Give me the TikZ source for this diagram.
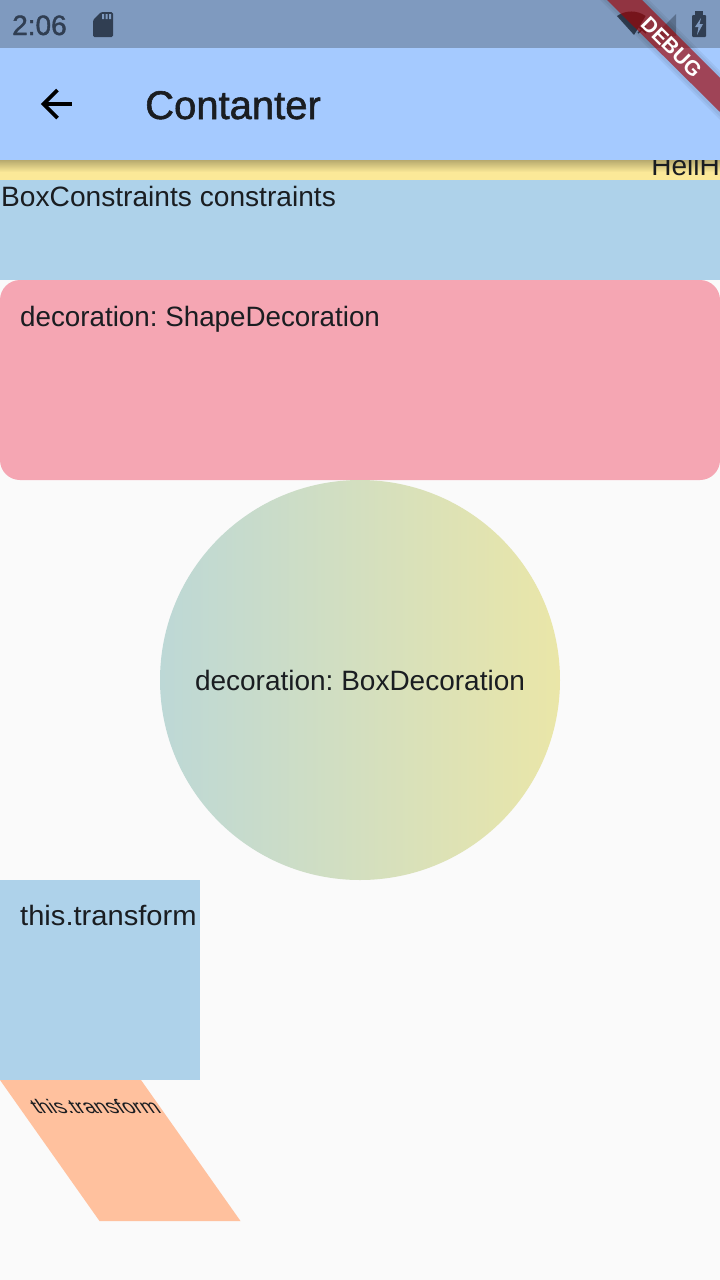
\documentclass[tikz,border=0pt]{standalone}
\usepackage{fontspec}
\setmainfont{Liberation Sans}
\newfontfamily\mediumfont[FakeBold=1.4]{Liberation Sans}
\frenchspacing
\definecolor{statusbar}{HTML}{7F9ABF}
\definecolor{appbar}{HTML}{A5CAFF}
\definecolor{butter}{HTML}{FBE998}
\definecolor{skyb}{HTML}{AED2EA}
\definecolor{pinkb}{HTML}{F5A6B3}
\definecolor{page}{HTML}{FAFAFA}
\definecolor{peach}{HTML}{FFC19E}
\definecolor{icon}{HTML}{303E52}
\definecolor{ink}{HTML}{1A1D21}
\definecolor{gradl}{HTML}{BDD8D6}
\definecolor{gradr}{HTML}{EAE6A8}
\tikzset{
  x=1pt,y=1pt,
  label28/.style={anchor=base west,inner sep=0pt,text=ink,font=\fontsize{28}{32}\selectfont},
}
\begin{document}
\begin{tikzpicture}
\useasboundingbox (0,0) rectangle (720,-1280);
\fill[page] (0,0) rectangle (720,-1280);
% yellow strip
\fill[butter] (0,-160) rectangle (720,-180);
\shade[top color=black!30!butter,bottom color=butter,opacity=.9] (0,-160) rectangle (720,-172);
\begin{scope}
\clip (0,-160) rectangle (720,-180);
\node[label28,anchor=base east] (hell) at (720,-175) {HellH};
\end{scope}
% constrained box
\fill[skyb] (0,-180) rectangle (720,-280);
\node[label28,transform shape,xscale=1.005] (constraints) at (1,-206) {BoxConstraints constraints};
% shape decoration
\fill[pinkb,rounded corners=20pt] (0,-280) rectangle (720,-480);
\node[label28,transform shape,xscale=.992] (shapedec) at (20,-326) {decoration: ShapeDecoration};
% box decoration
\shade[left color=gradl,right color=gradr,shading angle=90] (360,-680) circle[radius=200];
\node[label28,anchor=base] (boxdec) at (360,-690) {decoration: BoxDecoration};
% transform box
\fill[skyb] (0,-880) rectangle (200,-1080);
\node[label28,transform shape,xscale=1.04] (tbox) at (20,-925) {this.transform};
% skewed
\fill[peach] (0,-1080) -- (141,-1080) -- (240.5,-1221) -- (99.5,-1221) -- cycle;
\node[label28,transform shape,xslant=-.7,yscale=.7,xscale=.74] (skew) at (37,-1113) {this.transform};
% status bar
\fill[statusbar] (0,0) rectangle (720,-48);
\node[anchor=base west,inner sep=0pt,text=icon,font=\fontsize{28}{32}\mediumfont] (clock) at (12,-35) {2:06};
\fill[icon,rounded corners=1.5pt] (101,-12) -- (113,-12) -- (113,-37) -- (93,-37) -- (93,-20) -- cycle;
\fill[statusbar] (102,-14) rectangle (104,-19) (105.5,-14) rectangle (107.5,-19) (109,-14) rectangle (111,-19);
\fill[icon] (617,-16) arc[start angle=125,end angle=55,radius=25] -- (634,-35) -- cycle;
\draw[icon,line width=1.5pt] (638,-26) -- (646,-33) (646,-26) -- (638,-33);
\fill[icon,opacity=.45] (676,-14) -- (676,-36) -- (654,-36) -- cycle;
\fill[icon,rounded corners=1pt] (692,-15) rectangle (706,-37);
\fill[icon] (695,-11) rectangle (703,-16);
\fill[statusbar] (701,-18) -- (695,-27) -- (698.5,-27) -- (697,-35) -- (703,-24) -- (699.5,-24) -- cycle;
% app bar
\fill[appbar] (0,-48) rectangle (720,-160);
\node[anchor=base west,inner sep=0pt,text=ink,font=\fontsize{40}{44}\mediumfont] (title) at (145,-119) {Contanter};
\coordinate (arrowtip) at (43.5,-104);
\coordinate (arrowend) at (72,-104);
\draw[black,line width=3.6pt] (arrowtip) -- (arrowend);
\draw[black,line width=3.6pt,line join=miter] (57.5,-90) -- (arrowtip) -- (57.5,-118);
% debug banner
\fill[black,opacity=.05] (600,0) -- (649,0) -- (720,-71) -- (720,-120) -- cycle;
\fill[black,opacity=.05] (603,0) -- (646,0) -- (720,-74) -- (720,-117) -- cycle;
\fill[red!65!black,opacity=.62] (607,0) -- (642,0) -- (720,-78) -- (720,-112) -- cycle;
\node[rotate=-45,inner sep=0pt,text=white,font=\fontsize{21}{24}\selectfont\bfseries] (debug) at (671.5,-47) {DEBUG};
\end{tikzpicture}
\end{document}
